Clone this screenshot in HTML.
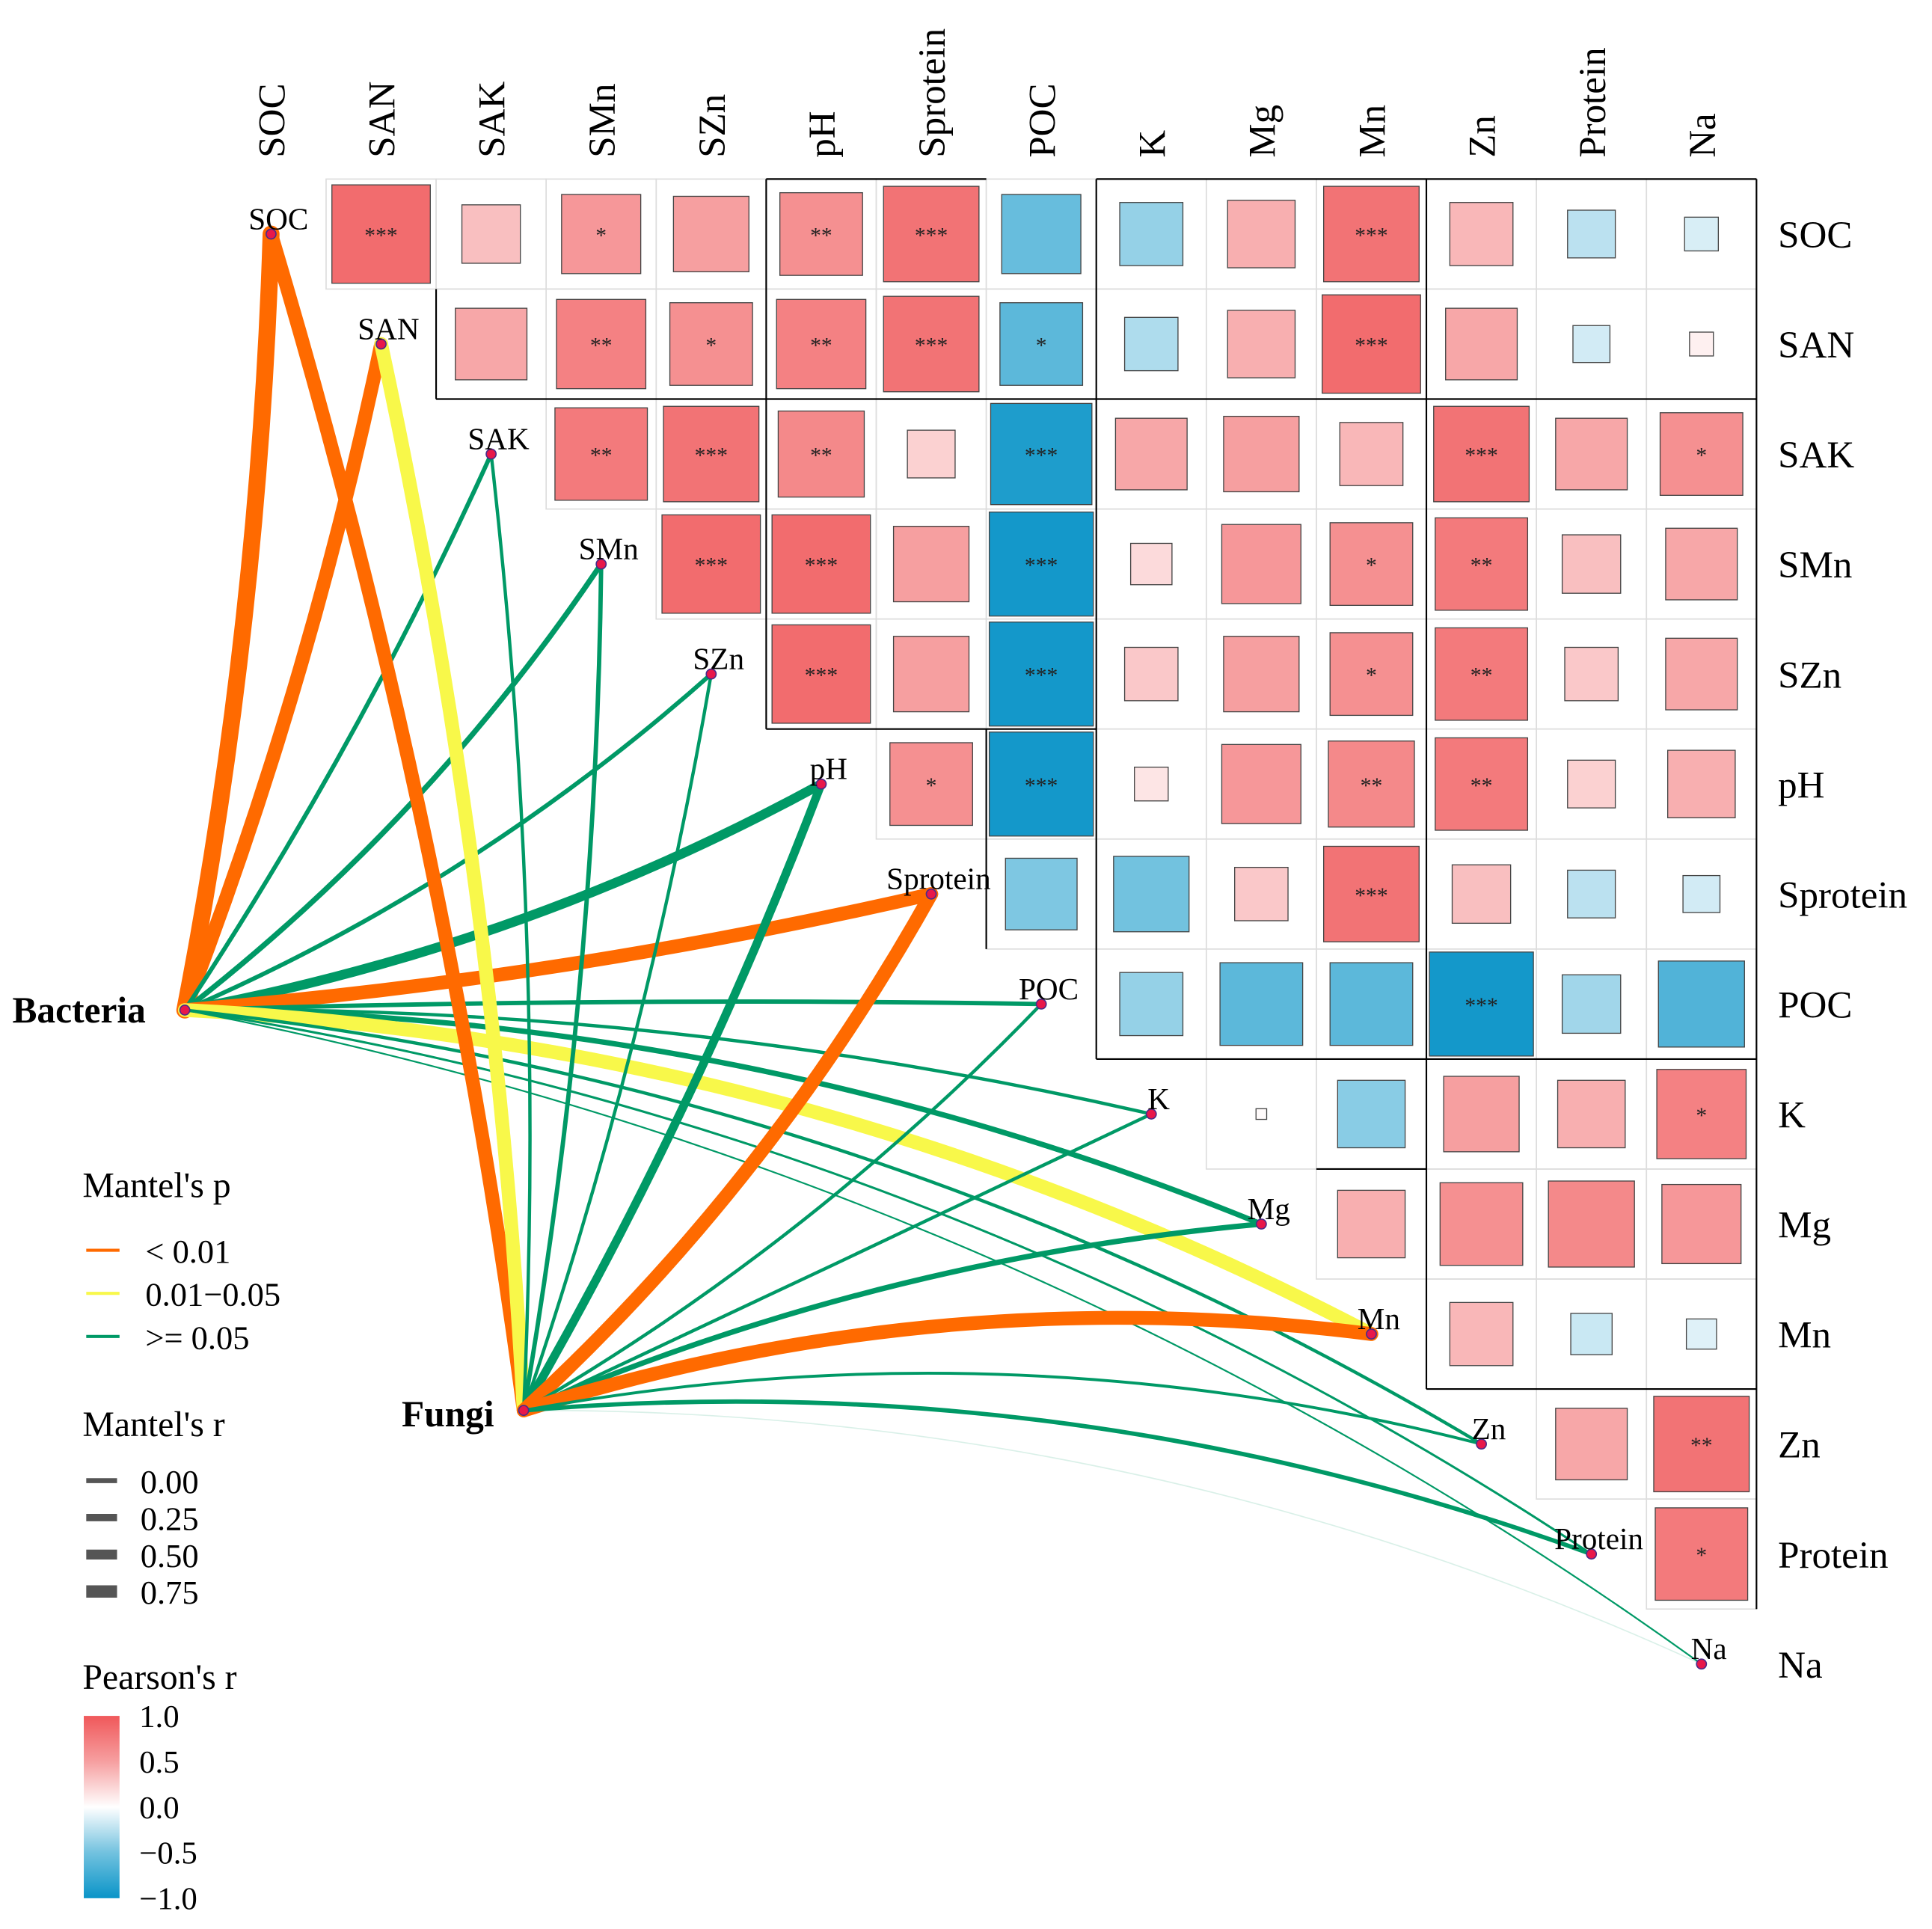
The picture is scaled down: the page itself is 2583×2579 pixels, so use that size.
<!DOCTYPE html>
<html><head><meta charset="utf-8"><style>
html,body{margin:0;padding:0;background:#fff}
svg{display:block}
svg text{font-family:"Liberation Serif","Times New Roman",serif}
</style></head><body>
<svg id="chart" xmlns="http://www.w3.org/2000/svg" width="2583" height="2579" viewBox="0 0 1568 1566" preserveAspectRatio="none" font-family="Liberation Serif, serif">
<rect x="0" y="0" width="1568" height="1566" fill="#fff"/>
<g id="grid"></g>
<g id="borders"></g>
<g id="links"></g>
<g id="nodes"></g>
<g id="labels"></g>
<g id="legend"></g>
</svg>
<script>
const vars = ["SOC","SAN","SAK","SMn","SZn","pH","Sprotein","POC","K","Mg","Mn","Zn","Protein","Na"];
const rRows = [
 [0.85,0.3,0.55,0.5,0.6,0.8,-0.55,-0.35,0.4,0.8,0.35,-0.2,-0.1],
 [0.45,0.7,0.6,0.7,0.8,-0.6,-0.25,0.4,0.85,0.45,-0.12,0.05],
 [0.75,0.8,0.65,0.2,-0.9,0.45,0.5,0.35,0.8,0.45,0.6],
 [0.85,0.85,0.5,-0.95,0.15,0.55,0.6,0.75,0.3,0.45],
 [0.85,0.5,-0.95,0.25,0.5,0.6,0.75,0.25,0.45],
 [0.6,-0.95,0.1,0.55,0.65,0.75,0.2,0.4],
 [-0.45,-0.5,0.25,0.8,0.3,-0.2,-0.12],
 [-0.35,-0.6,-0.6,-0.95,-0.3,-0.65],
 [0.01,-0.4,0.5,0.4,0.7],
 [0.4,0.6,0.65,0.55],
 [0.35,-0.15,-0.08],
 [0.45,0.8],
 [0.75]
];
const starRows = [
 ["***","","*","","**","***","","","","***","","",""],
 ["","**","*","**","***","*","","","***","","",""],
 ["**","***","**","","***","","","","***","","*"],
 ["***","***","","***","","","*","**","",""],
 ["***","","***","","","*","**","",""],
 ["*","***","","","**","**","",""],
 ["","","","***","","",""],
 ["","","","***","",""],
 ["","","","","*"],
 ["","","",""],
 ["","",""],
 ["","**"],
 ["*"]
];
const bactP = [0,0,2,2,2,2,0,2,2,2,1,2,2,2];
const bactR = [0.75,0.6,0.15,0.2,0.15,0.4,0.6,0.15,0.1,0.2,0.6,0.1,0.05,0.02];
const fungP = [0,1,2,2,2,2,0,2,2,2,0,2,2,2];
const fungR = [0.6,0.6,0.1,0.15,0.1,0.35,0.6,0.1,0.1,0.2,0.6,0.08,0.15,0.0];

const NS="http://www.w3.org/2000/svg";
const FF="Liberation Serif, Times New Roman, serif";
const X0=220, Y0=190, S=89.3;
const cx=j=>X0+j*S, cy=i=>Y0+i*S;
function mk(tag,attrs,parent){const e=document.createElementNS(NS,tag);for(const k in attrs)e.setAttribute(k,attrs[k]);if(tag==='text')e.setAttribute('font-family',FF);parent.appendChild(e);return e;}
function color(r){
  const t=Math.max(-1,Math.min(1,r));
  let a=[255,255,255],b,f;
  if(t>=0){b=[240,88,90];f=t;}else{b=[10,148,200];f=-t;}
  const c=a.map((v,k)=>Math.round(v+(b[k]-v)*Math.pow(f,0.8)));
  return `rgb(${c[0]},${c[1]},${c[2]})`;
}
const grid=document.getElementById('grid');
for(let i=0;i<13;i++){
  for(let k=0;k<rRows[i].length;k++){
    const j=i+1+k, r=rRows[i][k];
    const cell=mk('rect',{x:cx(j)-S/2,y:cy(i)-S/2,width:S,height:S,fill:'none',stroke:'#ddd','stroke-width':1},grid);
    
    
    const side=Math.min(S,S*Math.sqrt(Math.abs(r))*0.97);
    const sq=mk('rect',{x:cx(j)-side/2,y:cy(i)-side/2,width:side,height:side,fill:color(r),stroke:'#444','stroke-width':0.8},grid);
    
    
    const st=starRows[i][k];
    if(st){const t=mk('text',{x:cx(j),y:cy(i)+7,'text-anchor':'middle','font-size':18,fill:'#222'},grid);t.textContent=st;
      
      }
  }
}
const bd=document.getElementById('borders');
const E=(j)=>cx(j)-S/2;
const lines=[[E(2),cy(0)+S/2,E(2),cy(1)+S/2],[E(2),cy(1)+S/2,E(14),cy(1)+S/2],
 [E(5),cy(0)-S/2,E(5),cy(4)+S/2],[E(5),cy(4)+S/2,E(8),cy(4)+S/2],[E(8),cy(0)-S/2,E(8),cy(7)+S/2],
 [E(7),cy(5)-S/2,E(7),cy(6)+S/2],[E(8),cy(7)+S/2,E(14),cy(7)+S/2],[E(11),cy(0)-S/2,E(11),cy(10)+S/2],
 [E(14),cy(0)-S/2,E(14),cy(12)+S/2],[E(8),cy(0)-S/2,E(14),cy(0)-S/2],[E(5),cy(0)-S/2,E(7),cy(0)-S/2],
 [E(10),cy(8)+S/2,E(11),cy(8)+S/2],[E(11),cy(10)+S/2,E(14),cy(10)+S/2]];
lines.forEach(l=>{const e=mk('line',{x1:l[0],y1:l[1],x2:l[2],y2:l[3],stroke:'#000','stroke-width':1.3},bd);
 });
const pCol=['#FF6A00','#F8F84A','#009966'];
const links=document.getElementById('links');
function link(src,j,p,r,name,thr){
  const tx=cx(j),ty=cy(j);
  const dx=tx-src[0],dy=ty-src[1];
  const ang=Math.atan2(-dy,dx)*180/Math.PI;
  let bend=ang>thr?0.08*Math.min(1,(ang-thr)/15):-0.11*Math.min(1,(thr-ang)/15);
  if(ang>60) bend=0.04;
  const mx=(src[0]+tx)/2,my=(src[1]+ty)/2;
  const qx=mx-dy*bend,qy=my+dx*bend;
  const w=1+r*17;
  const e=mk('path',{d:`M${src[0]},${src[1]} Q${qx},${qy} ${tx},${ty}`,fill:'none',stroke:pCol[p],'stroke-width':w,'stroke-linecap':'round','stroke-opacity':r<0.01?0.15:1},links);
  
  
}
const B=[150,820],F=[425,1145];
for(let j=0;j<14;j++) link(B,j,bactP[j],bactR[j],'bacteria',2);
for(let j=0;j<14;j++) link(F,j,fungP[j],fungR[j],'fungi',25);
const nodes=document.getElementById('nodes');
for(let j=0;j<14;j++){
  const c=mk('circle',{cx:cx(j),cy:cy(j),r:4,fill:'#e8174a',stroke:'#4a2a8a','stroke-width':1},nodes);
  
  const t=mk('text',{x:cx(j)+6,y:cy(j)-4,'text-anchor':'middle','font-size':25},nodes);t.textContent=vars[j];
  
}
[[B,'Bacteria',10,830],[F,'Fungi',326,1158]].forEach(a=>{
  const c=mk('circle',{cx:a[0][0],cy:a[0][1],r:4,fill:'#e8174a',stroke:'#4a2a8a','stroke-width':1},nodes);
  
  const t=mk('text',{x:a[2],y:a[3],'font-size':30,'font-weight':'bold'},nodes);t.textContent=a[1];
  
});
const lab=document.getElementById('labels');
for(let j=0;j<14;j++){
  const t=mk('text',{x:0,y:0,transform:`translate(${cx(j)+11},128) rotate(-90)`,'font-size':31},lab);t.textContent=vars[j];
  
  const u=mk('text',{x:1443,y:cy(j)+11,'font-size':31},lab);u.textContent=vars[j];
  
}
const lg=document.getElementById('legend');
function txt(x,y,s,fs,name){const t=mk('text',{x:x,y:y,'font-size':fs},lg);t.textContent=s;return t;}
txt(67,972,"Mantel's p",29,'mantel-p-title');
const pLab=['< 0.01','0.01\u22120.05','>= 0.05'];
pLab.forEach((s,k)=>{const y=1015+k*35;
 const l=mk('line',{x1:70,y1:y,x2:97,y2:y,stroke:pCol[k],'stroke-width':2.5},lg);
 
 txt(118,y+10,s,27,'legend-p-label-'+k);});
txt(67,1166,"Mantel's r",29,'mantel-r-title');
['0.00','0.25','0.50','0.75'].forEach((s,k)=>{const y=1202+k*30;
 const l=mk('line',{x1:70,y1:y,x2:95,y2:y,stroke:'#555','stroke-width':4+k*2},lg);
 
 txt(114,y+10,s,27,'legend-r-label-'+k);});
txt(67,1371,"Pearson's r",29,'pearson-title');
const defs=mk('defs',{},lg);
const gr=mk('linearGradient',{id:'cb',x1:0,y1:0,x2:0,y2:1},defs);
[1,0.5,0,-0.5,-1].forEach((v,k)=>mk('stop',{offset:k/4,'stop-color':color(v)},gr));
const cb=mk('rect',{x:68,y:1393,width:29,height:148,fill:'url(#cb)'},lg);

['1.0','0.5','0.0','\u22120.5','\u22121.0'].forEach((s,k)=>txt(113,1402+k*37,s,26,'colorbar-tick-'+k));
</script>
</body></html>
